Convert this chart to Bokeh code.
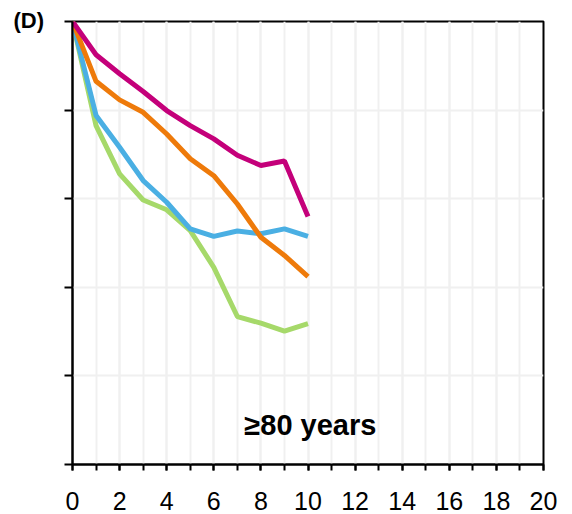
from bokeh.plotting import figure
from bokeh.models import SingleIntervalTicker, Label, Range1d, Title, CustomJSTickFormatter
from bokeh.embed import file_html
from bokeh.resources import INLINE

years = [0, 1, 2, 3, 4, 5, 6, 7, 8, 9, 10]
magenta_vals = [100, 92.5, 88.2, 84.2, 79.9, 76.5, 73.5, 69.8, 67.5, 68.5, 56.0]
orange_vals = [100, 86.5, 82.3, 79.5, 74.6, 69.0, 65.2, 58.8, 51.3, 47.2, 42.4]
blue_vals = [100, 78.8, 71.6, 64.1, 59.2, 53.2, 51.5, 52.7, 52.1, 53.2, 51.5]
green_vals = [100, 76.5, 65.6, 59.7, 57.5, 52.8, 44.5, 33.4, 31.9, 30.1, 31.8]
x_ticks = [0, 2, 4, 6, 8, 10, 12, 14, 16, 18, 20]
y_ticks = [0, 20, 40, 60, 80, 100]
panel_label = "(D)"
group_label = "≥80 years"

p = figure(width=572, height=514, output_backend="svg", toolbar_location=None,
           x_range=Range1d(0, 20), y_range=Range1d(0, 100),
           min_border_left=72, min_border_right=29, min_border_top=21, min_border_bottom=50)

p.outline_line_color = "black"
p.outline_line_width = 2
p.background_fill_color = "white"

p.xaxis.ticker = SingleIntervalTicker(interval=2, num_minor_ticks=2)
p.yaxis.ticker = y_ticks
for ax in (p.xaxis, p.yaxis):
    ax.axis_line_color = "black"
    ax.axis_line_width = 2
    ax.major_tick_line_color = "black"
    ax.major_tick_line_width = 2
    ax.minor_tick_line_color = "black"
    ax.minor_tick_line_width = 2
    ax.major_tick_in = 0
    ax.minor_tick_in = 0

p.xaxis.major_tick_out = 6
p.xaxis.minor_tick_out = 6
p.xaxis.major_label_text_font = "Liberation Sans"
p.xaxis.major_label_text_font_size = "25px"
p.xaxis.major_label_text_color = "black"
p.xaxis.major_label_standoff = 21

p.yaxis.major_tick_out = 8
p.yaxis.minor_tick_line_color = None
p.yaxis.formatter = CustomJSTickFormatter(code="return '';")
p.yaxis.major_label_standoff = 0

p.xgrid.grid_line_color = "#F0F0F0"
p.xgrid.grid_line_width = 2
p.xgrid.minor_grid_line_color = "#F0F0F0"
p.xgrid.minor_grid_line_width = 2
p.ygrid.grid_line_color = "#F0F0F0"
p.ygrid.grid_line_width = 2

p.line(years, green_vals, line_color="#A6D96A", line_width=5)
p.line(years, blue_vals, line_color="#4AAFE3", line_width=5)
p.line(years, orange_vals, line_color="#EE7A0A", line_width=5)
p.line(years, magenta_vals, line_color="#C4007A", line_width=5)

p.add_layout(Label(x=10.1, y=9, text=group_label, text_align="center", text_baseline="middle",
                   text_font="Liberation Sans", text_font_style="bold", text_font_size="29px",
                   text_color="black"))

p.add_layout(Title(text=panel_label, align="left", offset=-59, standoff=-22,
                   text_font="Liberation Sans", text_font_style="bold", text_font_size="22px",
                   text_color="black"), "above")

open("out.html", "w").write(file_html(p, INLINE))
